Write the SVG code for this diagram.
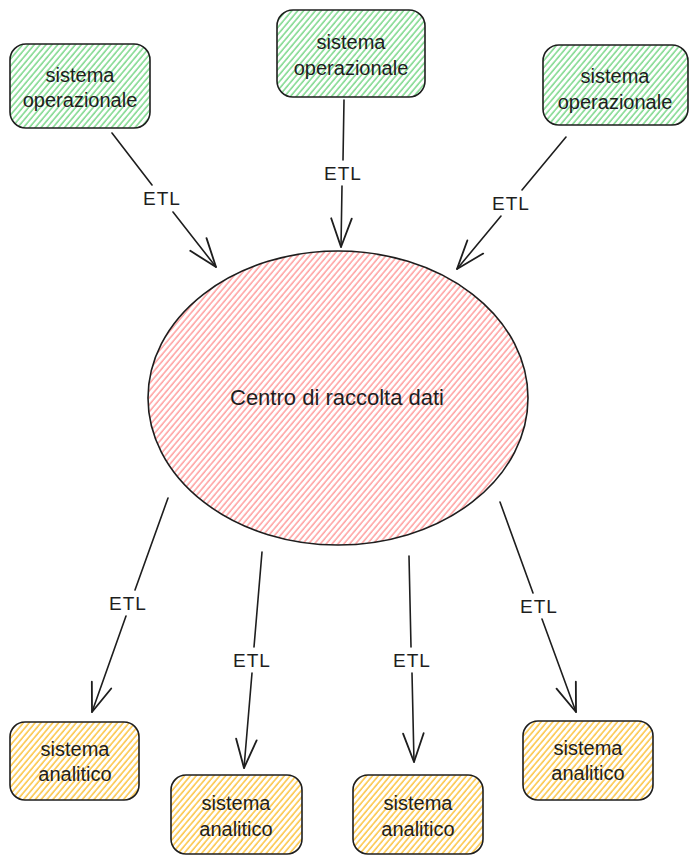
<svg xmlns="http://www.w3.org/2000/svg" width="699" height="863" viewBox="0 0 699 863">
<style>
.lbl{font-family:"Liberation Sans","DejaVu Sans",sans-serif;font-size:20px;fill:#1e1e1e;text-anchor:middle;dominant-baseline:central}
.big{font-size:22px}
.etl{font-size:19px;letter-spacing:1px}
.box{stroke:#1e1e1e;stroke-width:1.6}
.conn{fill:none;stroke:#1e1e1e;stroke-width:1.6;stroke-linecap:round}
</style>
<defs>
<pattern id="hG" patternUnits="userSpaceOnUse" width="4.5" height="4.5" patternTransform="rotate(40)">
<rect width="5" height="5" fill="#ffffff"/><line x1="1" y1="0" x2="1" y2="5" stroke="#7bd88a" stroke-width="1.5"/></pattern>
<pattern id="hR" patternUnits="userSpaceOnUse" width="4.5" height="4.5" patternTransform="rotate(40)">
<rect width="5" height="5" fill="#ffffff"/><line x1="1" y1="0" x2="1" y2="5" stroke="#ff9090" stroke-width="1.3"/></pattern>
<pattern id="hY" patternUnits="userSpaceOnUse" width="4.5" height="4.5" patternTransform="rotate(40)">
<rect width="5" height="5" fill="#ffffff"/><line x1="1" y1="0" x2="1" y2="5" stroke="#fcc441" stroke-width="1.5"/></pattern>
<marker id="arr" markerUnits="userSpaceOnUse" markerWidth="40" markerHeight="40" refX="0" refY="0" viewBox="-30 -15 35 30" orient="auto" overflow="visible">
<path d="M-25,-9 L0,0 L-25,9" fill="none" stroke="#1e1e1e" stroke-width="1.6" stroke-linecap="round" stroke-linejoin="round"/>
</marker>
</defs>

<g id="connectors">
<path class="conn" d="M112,133 L152,185 M173,212 L216,267" marker-end="url(#arr)"/>
<text class="lbl etl" x="162" y="198">ETL</text>
<path class="conn" d="M344,100 L343,160 M342,186 L341,247" marker-end="url(#arr)"/>
<text class="lbl etl" x="343" y="173">ETL</text>
<path class="conn" d="M566,137 L522,190 M501,216 L457,269" marker-end="url(#arr)"/>
<text class="lbl etl" x="511" y="203">ETL</text>
<path class="conn" d="M168,498 L135,590 M126,616 L92,712" marker-end="url(#arr)"/>
<text class="lbl etl" x="128" y="603">ETL</text>
<path class="conn" d="M262,552 L254,647 M252,673 L244,768" marker-end="url(#arr)"/>
<text class="lbl etl" x="252" y="660">ETL</text>
<path class="conn" d="M409,556 L411,647 M412,673 L414,762" marker-end="url(#arr)"/>
<text class="lbl etl" x="412" y="660">ETL</text>
<path class="conn" d="M500,502 L533,593 M542,619 L576,712" marker-end="url(#arr)"/>
<text class="lbl etl" x="539" y="606">ETL</text>
</g>

<g id="op1">
<rect class="box" x="10" y="44" width="140" height="84" rx="16" fill="url(#hG)"/>
<text class="lbl" x="80" y="75">sistema</text>
<text class="lbl" x="80" y="100">operazionale</text>
</g>
<g id="op2">
<rect class="box" x="277" y="10" width="148" height="87" rx="16" fill="url(#hG)"/>
<text class="lbl" x="351" y="42">sistema</text>
<text class="lbl" x="351" y="68">operazionale</text>
</g>
<g id="op3">
<rect class="box" x="543" y="45" width="145" height="80" rx="16" fill="url(#hG)"/>
<text class="lbl" x="615" y="76">sistema</text>
<text class="lbl" x="615" y="102">operazionale</text>
</g>

<g id="centro">
<ellipse class="box" cx="338" cy="398" rx="190" ry="147" fill="url(#hR)"/>
<text class="lbl big" x="337" y="397">Centro di raccolta dati</text>
</g>

<g id="an1">
<rect class="box" x="10" y="722" width="129" height="78" rx="15" fill="url(#hY)"/>
<text class="lbl" x="75" y="749">sistema</text>
<text class="lbl" x="75" y="774">analitico</text>
</g>
<g id="an2">
<rect class="box" x="171" y="775" width="131" height="79" rx="15" fill="url(#hY)"/>
<text class="lbl" x="236" y="803">sistema</text>
<text class="lbl" x="236" y="829">analitico</text>
</g>
<g id="an3">
<rect class="box" x="353" y="775" width="130" height="79" rx="15" fill="url(#hY)"/>
<text class="lbl" x="418" y="803">sistema</text>
<text class="lbl" x="418" y="829">analitico</text>
</g>
<g id="an4">
<rect class="box" x="523" y="721" width="130" height="79" rx="15" fill="url(#hY)"/>
<text class="lbl" x="588" y="748">sistema</text>
<text class="lbl" x="588" y="773">analitico</text>
</g>
</svg>
